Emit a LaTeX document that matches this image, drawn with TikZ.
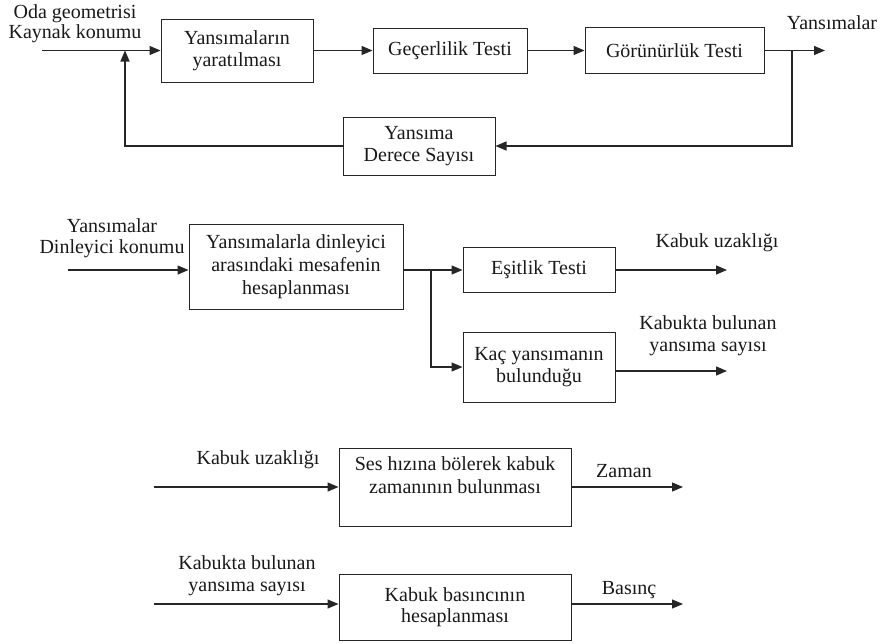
\documentclass[tikz,border=0pt]{standalone}
\usepackage{fontspec}
\setmainfont{Liberation Serif}
\usetikzlibrary{arrows.meta}
\begin{document}
\begin{tikzpicture}[x=1pt,y=-1pt,
  every node/.style={inner sep=0pt, align=center, font=\fontsize{20}{22}\selectfont, text=black!90},
  box/.style={draw=black!85, line width=1pt},
  arr/.style={draw=black!85, line width=1.3pt, -{Triangle[length=11pt,width=9pt]}},
  ln/.style={draw=black!85, line width=1.3pt}]
\useasboundingbox (0,0) rectangle (892,643);

% --- top block ---
\node[box, minimum width=152pt, minimum height=63pt] (b1) at (237,50.5) {Yansımaların\\yaratılması};
\node[box, minimum width=154pt, minimum height=45pt] (b2) at (450,50.5) {Geçerlilik Testi};
\node[box, minimum width=179pt, minimum height=46pt] (b3) at (674.5,50.5) {Görünürlük Testi};
\node[box, minimum width=152pt, minimum height=58pt] (b4) at (419,146) {Yansıma\\Derece Sayısı};

\node[font=\fontsize{20}{20}\selectfont] (l1) at (75,24) {Oda geometrisi\\Kaynak konumu};
\node (l2) at (832,23) {Yansımalar};

\coordinate (in1) at (42,50.5);
\coordinate (out1) at (825,50.5);
\coordinate (br1) at (792,50.5);
\coordinate (fb) at (125,50.5);

\draw[arr] (in1) -- (b1.west);
\draw[arr] (b1.east) -- (b2.west);
\draw[arr] (b2.east) -- (b3.west);
\draw[arr] (b3.east) -- (out1);
\draw[arr] (br1) |- (b4.east);
\draw[arr] (b4.west) -| (fb);

% --- middle block ---
\node[box, minimum width=214pt, minimum height=85pt, font=\fontsize{20}{23}\selectfont] (b5) at (296,266.5) {Yansımalarla dinleyici\\arasındaki mesafenin\\hesaplanması};
\node[box, minimum width=152pt, minimum height=45pt] (b6) at (539,270) {Eşitlik Testi};
\node[box, minimum width=152pt, minimum height=70pt] (b7) at (539,367) {Kaç yansımanın\\bulunduğu};

\node[font=\fontsize{20}{20.5}\selectfont] (l3) at (112,238) {Yansımalar\\Dinleyici konumu};
\node (l4) at (717,243) {Kabuk uzaklığı};
\node (l5) at (708,336) {Kabukta bulunan\\yansıma sayısı};

\coordinate (in2) at (68,270);
\coordinate (br2) at (431,270);
\coordinate (o6) at (727,270);
\coordinate (o7) at (727,371);

\draw[arr] (in2) -- (in2 -| b5.west);
\draw[arr] (b5.east |- b6) -- (b6.west);
\draw[arr] (br2) |- (b7.west);
\draw[arr] (b6.east) -- (o6);
\draw[arr] (b7.east |- o7) -- (o7);

% --- bottom blocks ---
\node[box, minimum width=232pt, minimum height=78pt, font=\fontsize{20}{23}\selectfont] (b8) at (455,487) {Ses hızına bölerek kabuk\\zamanının bulunması\\~};
\node[box, minimum width=232pt, minimum height=66pt, font=\fontsize{20}{21}\selectfont] (b9) at (455,607) {Kabuk basıncının\\hesaplanması};

\node (l6) at (258,460) {Kabuk uzaklığı};
\node (l7) at (624,471) {Zaman};
\node (l8) at (247,576) {Kabukta bulunan\\yansıma sayısı};
\node (l9) at (629,590) {Basınç};

\coordinate (in3) at (154,487);
\coordinate (o8) at (683,487);
\coordinate (in4) at (154,604);
\coordinate (o9) at (683,604);

\draw[arr] (in3) -- (b8.west);
\draw[arr] (b8.east) -- (o8);
\draw[arr] (in4) -- (in4 -| b9.west);
\draw[arr] (b9.east |- o9) -- (o9);
\end{tikzpicture}
\end{document}
